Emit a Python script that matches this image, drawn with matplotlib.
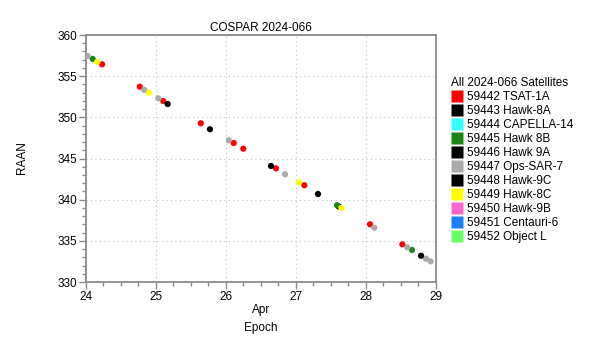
import matplotlib
matplotlib.use("Agg")
import matplotlib.pyplot as plt
from matplotlib.lines import Line2D
from matplotlib.ticker import MultipleLocator

plt.rcParams['font.family'] = ['Liberation Sans', 'DejaVu Sans']

# Series: label, colour, epochs (day of April 2024), RAAN (deg)
labels = ["59442 TSAT-1A", "59443 Hawk-8A", "59444 CAPELLA-14", "59445 Hawk 8B",
          "59446 Hawk 9A", "59447 Ops-SAR-7", "59448 Hawk-9C", "59449 Hawk-8C",
          "59450 Hawk-9B", "59451 Centauri-6", "59452 Object L"]
colors = ["#ff0000", "#000000", "#33ffff", "#1a861a", "#000000", "#aaaaaa",
          "#000000", "#ffff00", "#ff66cc", "#1a80ff", "#66ff66"]

x_59442 = [24.229, 24.769, 25.104, 25.639, 26.110, 26.247, 26.714, 27.119, 28.057, 28.519]
y_59442 = [356.44, 353.72, 351.98, 349.28, 346.88, 346.19, 343.81, 341.75, 337.01, 334.58]
x_59443 = [25.167, 26.643, 27.612]
y_59443 = [351.62, 344.09, 339.16]
x_59444 = []
y_59444 = []
x_59445 = [24.096, 27.586, 28.657]
y_59445 = [357.09, 339.32, 333.89]
x_59446 = [25.771, 27.314]
y_59446 = [348.55, 340.69]
x_59447 = [24.024, 24.833, 25.033, 26.039, 26.843, 28.119, 28.590, 28.857, 28.924]
y_59447 = [357.45, 353.34, 352.31, 347.21, 343.08, 336.60, 334.21, 332.83, 332.51]
x_59448 = [28.786]
y_59448 = [333.19]
x_59449 = [24.161, 24.900, 27.043, 27.647]
y_59449 = [356.72, 352.99, 342.11, 338.99]
x_59450 = []
y_59450 = []
x_59451 = []
y_59451 = []
x_59452 = []
y_59452 = []

xs = [x_59442, x_59443, x_59444, x_59445, x_59446, x_59447, x_59448, x_59449, x_59450, x_59451, x_59452]
ys = [y_59442, y_59443, y_59444, y_59445, y_59446, y_59447, y_59448, y_59449, y_59450, y_59451, y_59452]

fig = plt.figure(figsize=(6, 3.54), dpi=100)
ax = fig.add_axes([86/600, 1-282/354, 350/600, 247/354])

for x, y, c in zip(xs, ys, colors):
    if x:
        ax.scatter(x, y, s=20, color=c, edgecolors='none', zorder=3)

ax.set_xlim(24, 29)
ax.set_ylim(330, 360)
ax.xaxis.set_major_locator(MultipleLocator(1))
ax.xaxis.set_minor_locator(MultipleLocator(0.25))
ax.yaxis.set_major_locator(MultipleLocator(5))
ax.yaxis.set_minor_locator(MultipleLocator(1))

spc = '#8a8a8a'
for s in ax.spines.values():
    s.set_color(spc)
    s.set_linewidth(1.3)
ax.tick_params(which='both', direction='out', color=spc, width=1.0, labelsize=8.5,
               top=False, right=False, pad=1.5)
ax.tick_params(which='major', length=5)
ax.tick_params(which='minor', length=3)
ax.grid(which='major', color='#c4c4c4', linestyle=(0, (1, 3)), linewidth=0.8)
ax.set_axisbelow(True)

ax.set_title("COSPAR 2024-066", fontsize=8.5, pad=3)
fig.text(261/600, 1-310/354, "Apr", ha='center', va='center', fontsize=8.5)
fig.text(261/600, 1-328/354, "Epoch", ha='center', va='center', fontsize=8.5)
fig.text(22/600, 1-158/354, "RAAN", ha='center', va='center', rotation=90, fontsize=8.5)

handles = [Line2D([], [], linestyle='none', marker='s', markersize=8.3,
                  markerfacecolor=c, markeredgecolor='none') for c in colors]
leg = fig.legend(handles, labels, title="All 2024-066 Satellites", loc='upper left',
                 bbox_to_anchor=(443/600, 1-69/354), frameon=False, fontsize=8.5,
                 title_fontsize=8.5, handlelength=1.0, handletextpad=0.35,
                 labelspacing=0.17, borderpad=0.2, alignment='left')

fig.savefig("out.png", dpi=100)
